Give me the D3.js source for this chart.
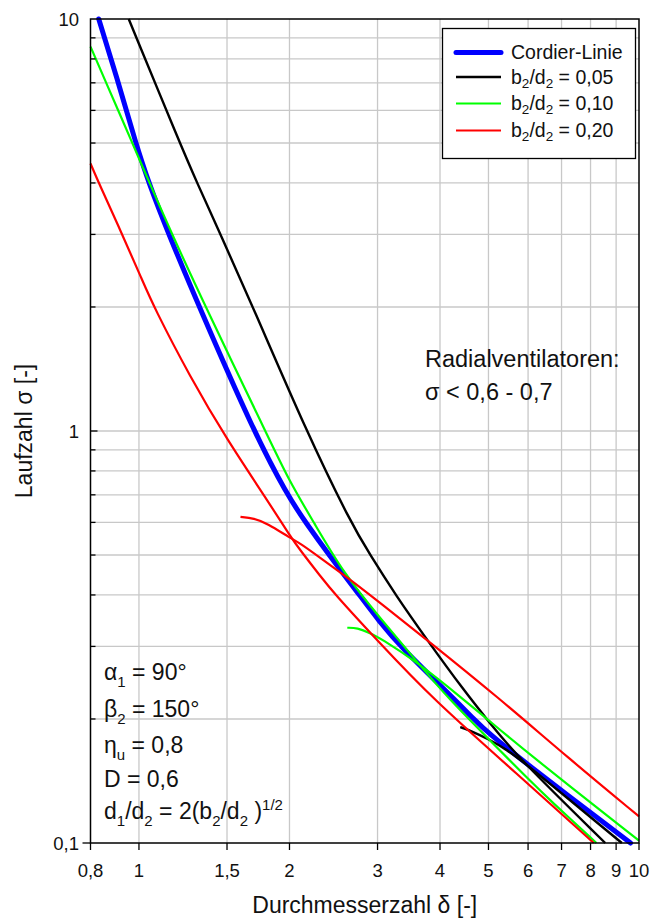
<!DOCTYPE html>
<html lang="de">
<head>
<meta charset="UTF-8"/>
<title>Cordier-Diagramm</title>
<script src="https://d3js.org/d3.v7.min.js"></script>
<style>
  body { margin: 0; background: #fff; }
  svg { display: block; font-family: "Liberation Sans", Arial, sans-serif; }
  text { white-space: pre; }
</style>
</head>
<body>
<div id="chart"></div>
<script>
// values, pairs of [delta, sigma]
var cordier = [[0.831,10],[0.91,7.0],[0.985,5.0],[1.046,4.0],[1.147,3.0],[1.32,2.0],[1.694,1.0],
               [1.978,0.7],[2.154,0.6],[2.40,0.5],[2.76,0.4],[3.02,0.346],[3.33,0.3],[4.30,0.222],
               [4.67,0.2],[5.0,0.1846],[6.0,0.1546],[9.62,0.1]];

// b2/d2 = 0,05 : steep branch and short lower branch
var b005a = [[0.954,10],[1.207,5.0],[1.307,4.0],[1.456,3.0],[1.69,2.0],[2.16,1.0],[2.65,0.6],
             [2.90,0.5],[3.26,0.4],[3.77,0.311],[4.46,0.235],[5.04,0.195],[5.71,0.162],[8.56,0.1]];
var b005b = [[4.39,0.191],[4.53,0.189],[5.04,0.178],[5.45,0.168],[5.88,0.1575],[9.24,0.1]];

// b2/d2 = 0,10
var b010a = [[0.8,8.57],[0.86,7.0],[0.97,5.0],[1.05,4.0],[1.165,3.0],[1.359,2.0],[1.79,1.0],
             [1.993,0.76],[2.237,0.6],[2.57,0.45],[3.04,0.351],[3.60,0.275],[4.19,0.222],
             [5.0,0.179],[6.0,0.143],[6.64,0.127],[8.22,0.1]];
var b010b = [[2.61,0.333],[2.73,0.333],[2.905,0.323],[3.04,0.314],[3.60,0.275],[4.48,0.222],
             [4.97,0.2],[6.0,0.165],[10,0.1013]];

// b2/d2 = 0,20
var b020a = [[0.8,4.46],[0.831,4.0],[0.926,3.0],[1.015,2.325],[1.071,2.0],[1.265,1.354],[1.501,0.951],
             [1.805,0.68],[2.01,0.554],[2.10,0.514],[2.31,0.443],[2.454,0.404],[2.99,0.311],
             [3.89,0.222],[5.71,0.147],[8.12,0.1]];
var b020b = [[1.596,0.619],[1.697,0.614],[1.805,0.597],[2.01,0.549],[2.10,0.534],[2.31,0.491],
             [2.65,0.435],[3.04,0.382],[3.77,0.311],[5.21,0.2265],[7.23,0.1606],[10,0.116]];

var xTicks = [0.8, 1, 1.5, 2, 3, 4, 5, 6, 7, 8, 9, 10];
var xTickLabels = ["0,8", "1", "1,5", "2", "3", "4", "5", "6", "7", "8", "9", "10"];
var xGrid = [1, 1.5, 2, 3, 4, 5, 6, 7, 8, 9];
var yTicks = [0.1, 1, 10];
var yTickLabels = ["0,1", "1", "10"];
var yMinor = [0.2, 0.3, 0.4, 0.5, 0.6, 0.7, 0.8, 0.9, 2, 3, 4, 5, 6, 7, 8, 9];

var legendLabels = [
    [["Cordier-Linie", "n"]],
    [["b", "n"], ["2", "sub"], ["/d", "n"], ["2", "sub"], [" = 0,05", "n"]],
    [["b", "n"], ["2", "sub"], ["/d", "n"], ["2", "sub"], [" = 0,10", "n"]],
    [["b", "n"], ["2", "sub"], ["/d", "n"], ["2", "sub"], [" = 0,20", "n"]]
];
var legendColors = ["#0000ff", "#000000", "#00ff00", "#ff0000"];
var legendWidths = [5, 2.4, 2.2, 2.2];

var w = 651;
var h = 924;

var xScale = d3.scaleLog().domain([0.8, 10]).range([90.5, 639]);
var yScale = d3.scaleLog().domain([0.1, 10]).range([843, 19]);

var svg = d3.select("#chart")
            .append("svg")
            .attr("width", w)
            .attr("height", h);

// grid
svg.selectAll("line.gx")
    .data(xGrid)
    .enter()
    .append("line")
    .attr("x1", function(d) { return xScale(d); })
    .attr("x2", function(d) { return xScale(d); })
    .attr("y1", yScale(10))
    .attr("y2", yScale(0.1))
    .attr("stroke", "#c8c8c8")
    .attr("stroke-width", 1.3);

svg.selectAll("line.gy")
    .data(yMinor.concat([1]))
    .enter()
    .append("line")
    .attr("x1", xScale(0.8))
    .attr("x2", xScale(10))
    .attr("y1", function(d) { return yScale(d); })
    .attr("y2", function(d) { return yScale(d); })
    .attr("stroke", "#c8c8c8")
    .attr("stroke-width", 1.3);

// curves (smoothed through the read points)
var line = d3.line()
    .x(function(d) { return xScale(d[0]); })
    .y(function(d) { return yScale(d[1]); })
    .curve(d3.curveBasis);

var series = [
    { pts: cordier, color: "#0000ff", width: 5, cap: "round" },
    { pts: b005a, color: "#000000", width: 2.4, cap: "butt" },
    { pts: b005b, color: "#000000", width: 2.4, cap: "butt" },
    { pts: b010a, color: "#00ff00", width: 2.2, cap: "butt" },
    { pts: b010b, color: "#00ff00", width: 2.2, cap: "butt" },
    { pts: b020a, color: "#ff0000", width: 2.2, cap: "butt" },
    { pts: b020b, color: "#ff0000", width: 2.2, cap: "butt" }
];

svg.selectAll("path.curve")
    .data(series)
    .enter()
    .append("path")
    .attr("class", "curve")
    .attr("d", function(d) { return line(d.pts); })
    .attr("fill", "none")
    .attr("stroke", function(d) { return d.color; })
    .attr("stroke-width", function(d) { return d.width; })
    .attr("stroke-linecap", function(d) { return d.cap; })
    .attr("stroke-linejoin", "round");

// frame
svg.append("rect")
    .attr("x", xScale(0.8))
    .attr("y", yScale(10))
    .attr("width", xScale(10) - xScale(0.8))
    .attr("height", yScale(0.1) - yScale(10))
    .attr("fill", "none")
    .attr("stroke", "#000")
    .attr("stroke-width", 1.5);

// x ticks (outside)
svg.selectAll("line.tx")
    .data(xTicks)
    .enter()
    .append("line")
    .attr("x1", function(d) { return xScale(d); })
    .attr("x2", function(d) { return xScale(d); })
    .attr("y1", yScale(0.1))
    .attr("y2", yScale(0.1) + 7)
    .attr("stroke", "#000")
    .attr("stroke-width", 1.3);

svg.selectAll("text.tx")
    .data(xTicks)
    .enter()
    .append("text")
    .attr("x", function(d) { return xScale(d); })
    .attr("y", 877)
    .attr("text-anchor", "middle")
    .attr("font-size", "18.5px")
    .attr("fill", "#111")
    .text(function(d, i) { return xTickLabels[i]; });

// y ticks (inside), small one outside at 0,1
svg.selectAll("line.ty")
    .data(yMinor)
    .enter()
    .append("line")
    .attr("x1", xScale(0.8))
    .attr("x2", xScale(0.8) + 5)
    .attr("y1", function(d) { return yScale(d); })
    .attr("y2", function(d) { return yScale(d); })
    .attr("stroke", "#000")
    .attr("stroke-width", 1.3);

svg.append("line")
    .attr("x1", xScale(0.8))
    .attr("x2", xScale(0.8) + 7)
    .attr("y1", yScale(1))
    .attr("y2", yScale(1))
    .attr("stroke", "#000")
    .attr("stroke-width", 1.3);

svg.append("line")
    .attr("x1", xScale(0.8) - 8)
    .attr("x2", xScale(0.8))
    .attr("y1", yScale(0.1))
    .attr("y2", yScale(0.1))
    .attr("stroke", "#000")
    .attr("stroke-width", 1.3);

svg.selectAll("text.ty")
    .data(yTicks)
    .enter()
    .append("text")
    .attr("x", 79)
    .attr("y", function(d) { return yScale(d) + 6.5; })
    .attr("text-anchor", "end")
    .attr("font-size", "18.5px")
    .attr("fill", "#111")
    .text(function(d, i) { return yTickLabels[i]; });

// axis titles
svg.append("text")
    .attr("x", (xScale(0.8) + xScale(10)) / 2)
    .attr("y", 913)
    .attr("text-anchor", "middle")
    .attr("font-size", "23px")
    .attr("fill", "#111")
    .text("Durchmesserzahl \u03b4 [-]");

svg.append("text")
    .attr("transform", "translate(32," + yScale(1) + ") rotate(-90)")
    .attr("text-anchor", "middle")
    .attr("font-size", "23px")
    .attr("fill", "#111")
    .text("Laufzahl \u03c3 [-]");

// text with sub- and superscripts
function rich(sel, parts, smallSize, subShift, supShift) {
    var cur = 0;
    parts.forEach(function(p) {
        var target = p[1] === "sub" ? subShift : (p[1] === "sup" ? -supShift : 0);
        var t = sel.append("tspan").attr("dy", target - cur).text(p[0]);
        if (p[1] !== "n") t.attr("font-size", smallSize);
        cur = target;
    });
}

// legend
var lg = svg.append("g");
lg.append("rect")
    .attr("x", 442.5)
    .attr("y", 28.5)
    .attr("width", 193)
    .attr("height", 130)
    .attr("fill", "#fff")
    .attr("stroke", "#000")
    .attr("stroke-width", 1.3);

var rowY = [52.5, 77, 103.5, 130.5];
legendLabels.forEach(function(parts, i) {
    lg.append("line")
        .attr("x1", 456)
        .attr("x2", 501)
        .attr("y1", rowY[i])
        .attr("y2", rowY[i])
        .attr("stroke", legendColors[i])
        .attr("stroke-width", legendWidths[i])
        .attr("stroke-linecap", i === 0 ? "round" : "butt");
    var t = lg.append("text")
        .attr("x", 511)
        .attr("y", rowY[i] + 6.5)
        .attr("font-size", "19.5px")
        .attr("fill", "#111");
    rich(t, parts, "13.5px", 4, 0);
});

// annotations
var notes = [
    [["\u03b1", "n"], ["1", "sub"], [" = 90\u00b0", "n"]],
    [["\u03b2", "n"], ["2", "sub"], [" = 150\u00b0", "n"]],
    [["\u03b7", "n"], ["u", "sub"], [" = 0,8", "n"]],
    [["D = 0,6", "n"]],
    [["d", "n"], ["1", "sub"], ["/d", "n"], ["2", "sub"], [" = 2(b", "n"], ["2", "sub"],
     ["/d", "n"], ["2", "sub"], [" )", "n"], ["1/2", "sup"]]
];
var noteY = [680, 717, 753, 786.5, 819];
notes.forEach(function(parts, i) {
    var t = svg.append("text")
        .attr("x", 104)
        .attr("y", noteY[i])
        .attr("font-size", "23px")
        .attr("fill", "#111");
    rich(t, parts, "15px", 7, 9);
});

svg.append("text")
    .attr("x", 425)
    .attr("y", 366.5)
    .attr("font-size", "23.5px")
    .attr("fill", "#111")
    .text("Radialventilatoren:");

svg.append("text")
    .attr("x", 425)
    .attr("y", 400)
    .attr("font-size", "23.5px")
    .attr("fill", "#111")
    .text("\u03c3 < 0,6 - 0,7");
</script>
</body>
</html>
